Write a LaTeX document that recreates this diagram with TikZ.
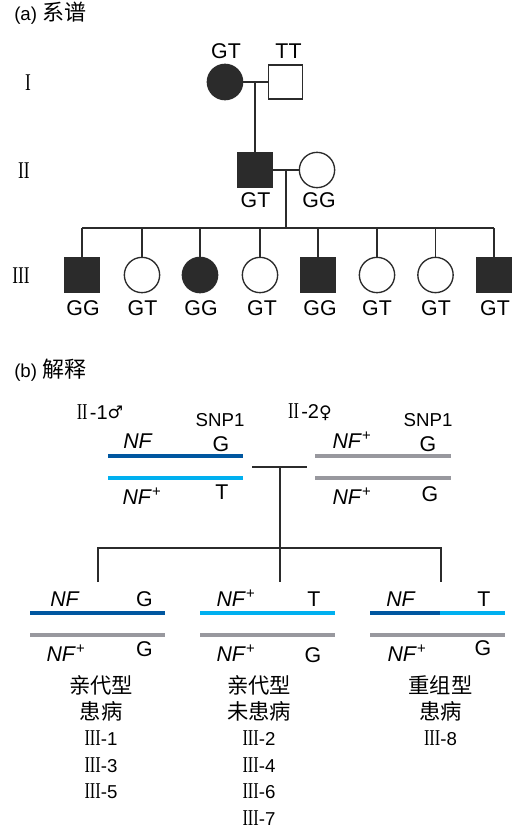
\documentclass[tikz,border=0pt]{standalone}
\usepackage{fontspec}
\setmainfont{Liberation Sans}
\newfontfamily\cjk{Noto Sans CJK SC}
\newfontfamily\romanfont[FakeStretch=0.72]{Liberation Serif}
\newfontfamily\signfont{DejaVu Sans}
\definecolor{ink}{RGB}{43,43,43}
\definecolor{nfblue}{RGB}{0,87,160}
\definecolor{nfplus}{RGB}{0,176,240}
\definecolor{chromgrey}{RGB}{152,152,158}
\newcommand{\gen}[1]{{\romanfont #1}}
\newcommand{\nfp}{\textit{NF}\textsuperscript{+}}
\newcommand{\member}[2]{{\romanfont\fontsize{17}{19.8}\selectfont #1}{\rmfamily\fontsize{14}{19.8}\selectfont -#2}}
\tikzset{
  chrom/.style={line width=3pt},
  allele/.style={font=\fontsize{16}{16}\selectfont, inner sep=0pt, text height=11.5pt, text depth=0pt},
  heading/.style={anchor=west, inner sep=0pt, font=\fontsize{14}{14}\selectfont},
  column/.style={anchor=north, inner sep=0pt, align=center, font=\cjk\fontsize{16}{19.8}\selectfont}
}

\begin{document}
\begin{tikzpicture}[x=0.75pt, y=-0.75pt]
            \tikzstyle{male}=[rectangle,draw=ink,line width=1pt,minimum size=25.5pt,inner sep=0pt]
            \tikzstyle{female}=[circle,draw=ink,line width=1pt,minimum size=26.5pt,inner sep=0pt]
            \tikzstyle{ill}=[fill=ink]
            \tikzstyle{link}=[draw=ink,line width=1.05pt]
            \tikzstyle{generation}=[inner sep=0pt,font=\romanfont\fontsize{18}{18}\selectfont]
            \useasboundingbox (0,0) rectangle (525,831);

            \node[heading] (title_a) at (14,13) {(a) {\cjk\fontsize{16.5}{16.5}\selectfont 系谱}};
            \node[generation] (gen_1) at (28,83)  {I};
            \node[generation] (gen_2) at (24,171)  {II};
            \node[generation] (gen_3) at (21,276)  {III};

            \node[female,ill] (I_1) at (225,82)  {};
            \node[male] (I_2) at (285.5,82)  {};
            \node[allele] (g_I_1) at (226,50.5)  {GT};
            \node[allele] (g_I_2) at (288.5,50.5)  {TT};

            \node[male,ill] (II_1) at (255,170)  {};
            \node[female] (II_2) at (317,170)  {};
            \node[allele] (g_II_1) at (255.5,200)  {GT};
            \node[allele] (g_II_2) at (319,200)  {GG};

            \node[male,ill] (III_1) at (82,275)  {};
            \node[female] (III_2) at (142,275)  {};
            \node[female,ill] (III_3) at (200,275)  {};
            \node[female] (III_4) at (260,275)  {};
            \node[male,ill] (III_5) at (318,275)  {};
            \node[female] (III_6) at (377,275)  {};
            \node[female] (III_7) at (435.5,275)  {};
            \node[male,ill] (III_8) at (494,275)  {};
            \node[allele] (g_III_1) at (83,307.5)  {GG};
            \node[allele] (g_III_2) at (142.5,307.5)  {GT};
            \node[allele] (g_III_3) at (201,307.5)  {GG};
            \node[allele] (g_III_4) at (262,307.5)  {GT};
            \node[allele] (g_III_5) at (320,307.5)  {GG};
            \node[allele] (g_III_6) at (377,307.5)  {GT};
            \node[allele] (g_III_7) at (436,307.5)  {GT};
            \node[allele] (g_III_8) at (495,307.5)  {GT};

            \coordinate (m_I) at (255,82);
            \coordinate (m_II) at (286,170);
            \coordinate (s_III) at (286,228);
            \coordinate (s_left) at (82,228);
            \coordinate (s_right) at (494,228);

            \draw[link] (I_1) -- (I_2);
            \draw[link] (m_I) -- (II_1);
            \draw[link] (II_1) -- (II_2);
            \draw[link] (m_II) -- (s_III);
            \draw[link] (s_left) -- (s_right);
            \draw[link] (III_1) -- (III_1 |- s_III);
            \draw[link] (III_2) -- (III_2 |- s_III);
            \draw[link] (III_3) -- (III_3 |- s_III);
            \draw[link] (III_4) -- (III_4 |- s_III);
            \draw[link] (III_5) -- (III_5 |- s_III);
            \draw[link] (III_6) -- (III_6 |- s_III);
            \draw[link] (III_7) -- (III_7 |- s_III);
            \draw[link] (III_8) -- (III_8 |- s_III);

            \node[heading] (title_b) at (14,370) {(b) {\cjk\fontsize{16.5}{16.5}\selectfont 解释}};
            \node[inner sep=0pt] (p_1) at (100,412) {\gen{\fontsize{17}{17}\selectfont II}\,{\fontsize{15}{15}\selectfont -1}{\signfont\fontsize{13}{13}\selectfont\raisebox{1pt}{♂}}};
            \node[inner sep=0pt] (p_2) at (310,412) {\gen{\fontsize{17}{17}\selectfont II}\,{\fontsize{15}{15}\selectfont -2}{\signfont\fontsize{13}{13}\selectfont ♀}};
            \node[allele,font=\fontsize{14}{14}\selectfont,text height=10pt] (snp_1) at (220,419.5) {SNP1};
            \node[allele,font=\fontsize{14}{14}\selectfont,text height=10pt] (snp_2) at (428,419.5) {SNP1};

            \draw[chrom,nfblue] (108,456) -- (243,456);
            \draw[chrom,nfplus] (108,478) -- (243,478);
            \draw[chrom,chromgrey] (315,456) -- (451,456);
            \draw[chrom,chromgrey] (315,478) -- (451,478);
            \node[allele] (a_1) at (138,441) {\textit{NF}};
            \node[allele] (b_1) at (221,444) {G};
            \node[allele] (a_2) at (142,497) {\nfp};
            \node[allele] (b_2) at (222,492) {T};
            \node[allele] (a_3) at (352,441) {\nfp};
            \node[allele] (b_3) at (428,444) {G};
            \node[allele] (a_4) at (352,497) {\nfp};
            \node[allele] (b_4) at (430,494) {G};

            \coordinate (bar_l) at (252,467);
            \coordinate (bar_r) at (307,467);
            \coordinate (bar_m) at (280,467);
            \coordinate (sib_m) at (280,548);
            \coordinate (sib_l) at (98,548);
            \coordinate (sib_r) at (441,548);
            \coordinate (d_1) at (98,582);
            \coordinate (d_2) at (280,582);
            \coordinate (d_3) at (441,582);
            \draw[link,line width=0.9pt] (bar_l) -- (bar_r);
            \draw[link,line width=0.9pt] (bar_m) -- (sib_m);
            \draw[link,line width=0.9pt] (d_1) -- (sib_l) -- (sib_r) -- (d_3);
            \draw[link,line width=0.9pt] (sib_m) -- (d_2);

            \draw[chrom,nfblue] (30,613) -- (165,613);
            \draw[chrom,chromgrey] (30,635) -- (165,635);
            \draw[chrom,nfplus] (200,613) -- (335,613);
            \draw[chrom,chromgrey] (200,635) -- (335,635);
            \draw[chrom,nfblue] (370,613) -- (440,613);
            \draw[chrom,nfplus] (440,613) -- (505,613);
            \draw[chrom,chromgrey] (370,635) -- (505,635);

            \node[allele] (a_5) at (65,599) {\textit{NF}};
            \node[allele] (b_5) at (144.5,599) {G};
            \node[allele] (a_6) at (66,654) {\nfp};
            \node[allele] (b_6) at (144.5,649) {G};
            \node[allele] (a_7) at (236,599) {\nfp};
            \node[allele] (b_7) at (314,599) {T};
            \node[allele] (a_8) at (236,654) {\nfp};
            \node[allele] (b_8) at (313,655) {G};
            \node[allele] (a_9) at (401,599) {\textit{NF}};
            \node[allele] (b_9) at (484,599) {T};
            \node[allele] (a_10) at (407,654) {\nfp};
            \node[allele] (b_10) at (483,648) {G};

            \node[column] (col_1) at (101,675) {亲代型\\患病\\\member{III}{1}\\\member{III}{3}\\\member{III}{5}};
            \node[column] (col_2) at (259,675) {亲代型\\未患病\\\member{III}{2}\\\member{III}{4}\\\member{III}{6}\\\member{III}{7}};
            \node[column] (col_3) at (440.5,675) {重组型\\患病\\\member{III}{8}};
        \end{tikzpicture}
\end{document}
